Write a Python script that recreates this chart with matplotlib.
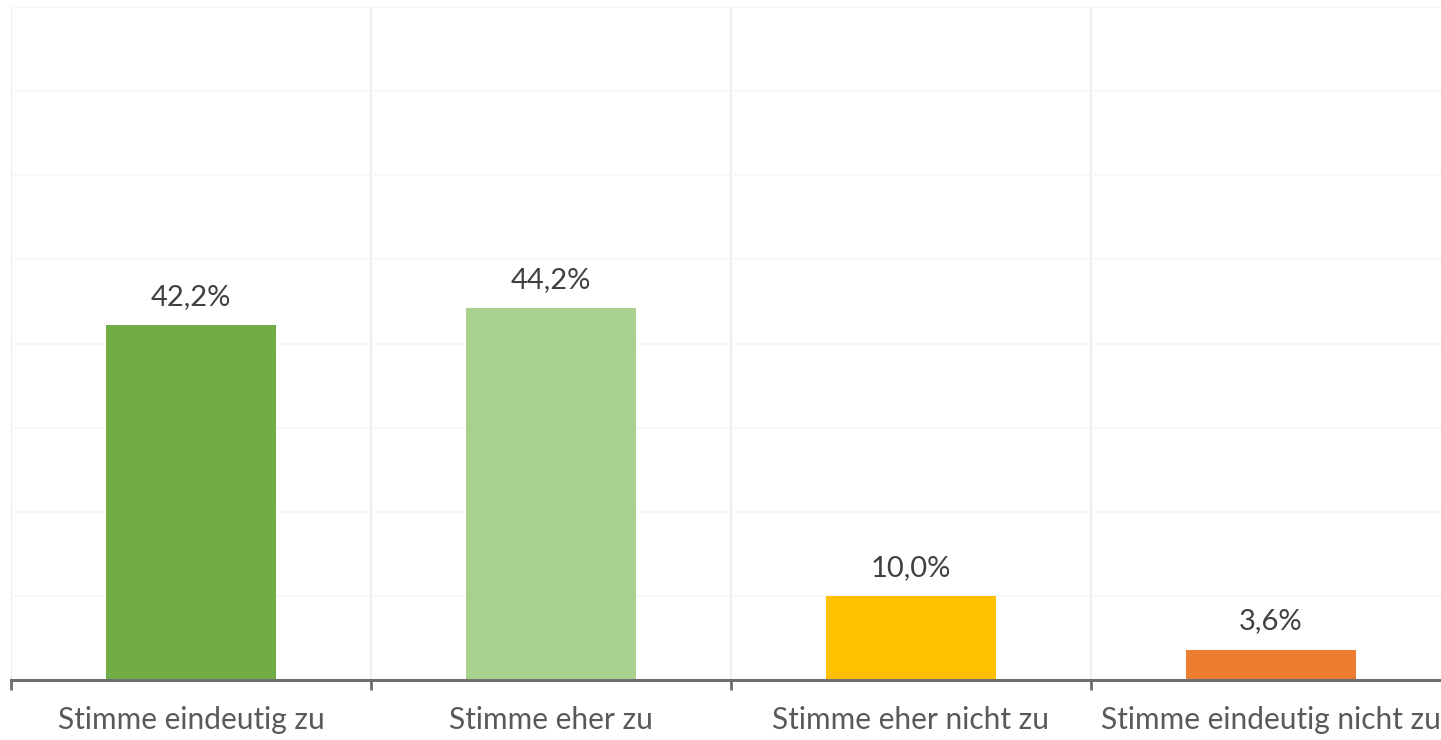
import matplotlib
matplotlib.use("Agg")
import matplotlib.pyplot as plt
from matplotlib.ticker import MultipleLocator, FixedLocator

categories = ["Stimme eindeutig zu", "Stimme eher zu", "Stimme eher nicht zu", "Stimme eindeutig nicht zu"]
values = [42.2, 44.2, 10.0, 3.6]
labels = ["42,2%", "44,2%", "10,0%", "3,6%"]
colors = ["#70AD47", "#A9D18E", "#FFC000", "#ED7D31"]

W, H = 1441, 740
fig = plt.figure(figsize=(W / 100, H / 100), dpi=100)
left_px, right_px, top_px, base_px = 11, 1451, 7, 680
ax = fig.add_axes([left_px / W, 1 - base_px / H, (right_px - left_px) / W, (base_px - top_px) / H])

x = list(range(len(categories)))
ax.bar(x, values, width=0.47, color=colors, zorder=3)
ax.set_xlim(-0.5, len(categories) - 0.5)
ax.set_ylim(0, 80)

for xi, v, lab in zip(x, values, labels):
    ax.annotate(lab, (xi, v), xytext=(0, 11), textcoords="offset points",
                ha="center", va="bottom", fontsize=21, color="#404040", family="Lato")

# horizontal gridlines
ax.yaxis.set_major_locator(MultipleLocator(10))
ax.grid(axis="y", color="#f6f6f6", linewidth=1.2, zorder=0)
ax.tick_params(axis="y", left=False, labelleft=False)

# category boundaries as vertical gridlines and ticks
bounds = [i - 0.5 for i in range(len(categories) + 1)]
for b in bounds:
    ax.axvline(b, color="#ededed", linewidth=1.5, zorder=1)
ax.set_xticks(x)
ax.set_xticklabels(categories, fontsize=21.5, color="#595959", family="Lato")
ax.tick_params(axis="x", length=0, pad=19)
ax.xaxis.set_minor_locator(FixedLocator(bounds))
ax.tick_params(axis="x", which="minor", length=7, width=2, color="#6f6f6f", direction="out")

for s in ["top", "right", "left"]:
    ax.spines[s].set_visible(False)
ax.spines["bottom"].set_color("#6f6f6f")
ax.spines["bottom"].set_linewidth(2.2)
ax.spines["bottom"].set_zorder(4)

fig.savefig("out.png", dpi=100)
